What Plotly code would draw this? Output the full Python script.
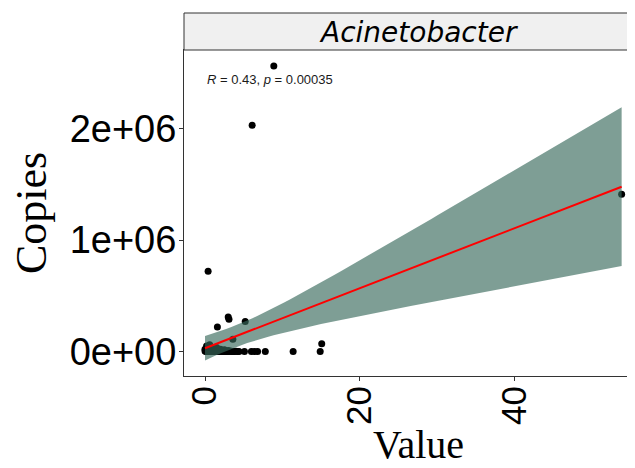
import numpy as np
import plotly.graph_objects as go

# ---- data ----
value = [
    8.9, 6.1, 0.4, 53.9, 1.6, 3.0, 3.1, 5.2, 3.6, 15.1, 14.9, 11.4, 7.8, 6.8, 6.4, 6.0, 5.1,
    0.0, 0.0, 0.1, 0.1, 0.2, 0.2, 0.3, 0.3, 0.4, 0.5, 0.5, 0.6, 0.7, 0.8, 0.8, 0.9, 1.0,
    1.0, 1.1, 1.2, 1.3, 1.4, 1.5, 1.5, 1.6, 1.7, 1.8, 1.9, 2.0, 2.1, 2.2, 2.3, 2.4, 2.5,
    2.6, 2.7, 2.8, 2.9, 3.0, 3.1, 3.3, 3.4, 3.6, 3.8, 4.0, 4.2, 4.4, 0.2, 0.6,
]
copies = [
    2560e3, 2030e3, 720e3, 1410e3, 220e3, 310e3, 290e3, 270e3, 110e3, 70e3, 0, 0, 0, 0, 0, 0, 0,
    5e3, 20e3, 0, 10e3, 3e3, 30e3, 0, 8e3, 15e3, 2e3, 25e3, 0, 12e3, 4e3, 40e3, 0, 6e3,
    18e3, 2e3, 0, 10e3, 3e3, 0, 35e3, 5e3, 1e3, 8e3, 0, 20e3, 2e3, 0, 6e3, 1e3, 15e3,
    0, 3e3, 0, 2e3, 10e3, 0, 4e3, 0, 1e3, 0, 2e3, 0, 0, 50e3, 60e3,
]
x_ticks = [0, 20, 40]
y_ticks = [0, 1e6, 2e6]
y_tick_labels = ["0e+00", "1e+06", "2e+06"]
panel_title = "Acinetobacter"
stat_label = "<i>R</i> = 0.43, <i>p</i> = 0.00035"
x_title = "Value"
y_title = "Copies"

# ---- linear fit with 95% confidence band (as geom_smooth(method='lm')) ----
x = np.array(value, dtype=float)
y = np.array(copies, dtype=float)
n = len(x)
slope, intercept = np.polyfit(x, y, 1)
resid = y - (intercept + slope * x)
s = np.sqrt(np.sum(resid ** 2) / (n - 2))
sxx = np.sum((x - x.mean()) ** 2)
t_crit = 1.998
xs = np.linspace(x.min(), x.max(), 80)
fit = intercept + slope * xs
se = s * np.sqrt(1.0 / n + (xs - x.mean()) ** 2 / sxx)
upper = fit + t_crit * se
lower = fit - t_crit * se

fig = go.Figure()
fig.add_trace(go.Scatter(x=value, y=copies, mode="markers",
                         marker=dict(color="black", size=7), hoverinfo="skip"))
fig.add_trace(go.Scatter(x=np.concatenate([xs, xs[::-1]]), y=np.concatenate([upper, lower[::-1]]),
                         fill="toself", fillcolor="rgba(57,106,92,0.65)", line=dict(width=0),
                         mode="lines", hoverinfo="skip"))
fig.add_trace(go.Scatter(x=xs, y=fit, mode="lines", line=dict(color="red", width=2), hoverinfo="skip"))

# the page body has an 8px margin, so the figure is drawn 8px in from the top-left
OFF = 8
W, H = 635 - OFF, 468 - OFF
L, R, T, B = 184 - OFF, 0, 50 - OFF, 92
pw, ph = W - L - R, H - T - B


def px(xp):
    return (xp - OFF - L) / pw


def py(yp):
    return (H - B - (yp - OFF)) / ph


fig.update_layout(
    width=W, height=H, margin=dict(l=L, r=R, t=T, b=B),
    paper_bgcolor="white", plot_bgcolor="white", showlegend=False,
    xaxis=dict(range=[-2.72, 55.63], tickvals=x_ticks, tickangle=-90,
               tickfont=dict(family="Liberation Sans", size=35, color="black"),
               ticks="outside", ticklen=4, tickcolor="#333333", tickwidth=1,
               ticklabelstandoff=-9,
               showline=True, linecolor="#333333", linewidth=1, mirror=True,
               showgrid=False, zeroline=False),
    yaxis=dict(range=[-0.2197e6, 2.704e6], tickvals=y_ticks, ticktext=y_tick_labels,
               tickfont=dict(family="Liberation Sans", size=38, color="black"),
               ticks="outside", ticklen=4, tickcolor="#333333", tickwidth=1,
               ticklabelstandoff=-5,
               showline=True, linecolor="#333333", linewidth=1, mirror=False,
               showgrid=False, zeroline=False),
    shapes=[dict(type="rect", xref="paper", yref="paper", x0=0, x1=1.05, y0=1, y1=py(13),
                 fillcolor="#F0F0F0", line=dict(color="#333333", width=1), layer="above")],
    annotations=[
        dict(text="<i>" + panel_title + "</i>", xref="paper", yref="paper",
             x=px(418), y=py(32), showarrow=False,
             xanchor="center", yanchor="middle",
             font=dict(family="DejaVu Sans", size=28, color="black")),
        dict(text=stat_label, xref="x", yref="y", x=0, y=2.44e6, showarrow=False,
             xanchor="left", yanchor="middle",
             font=dict(family="Liberation Sans", size=13, color="#1a1a1a")),
        dict(text=y_title, xref="paper", yref="paper", x=px(31), y=py(213), textangle=-90,
             showarrow=False, xanchor="center", yanchor="middle",
             font=dict(family="Liberation Serif", size=44, color="black")),
        dict(text=x_title, xref="paper", yref="paper", x=px(418), y=py(445),
             showarrow=False, xanchor="center", yanchor="middle",
             font=dict(family="Liberation Serif", size=40, color="black")),
    ],
)

fig.write_html("out.html")
